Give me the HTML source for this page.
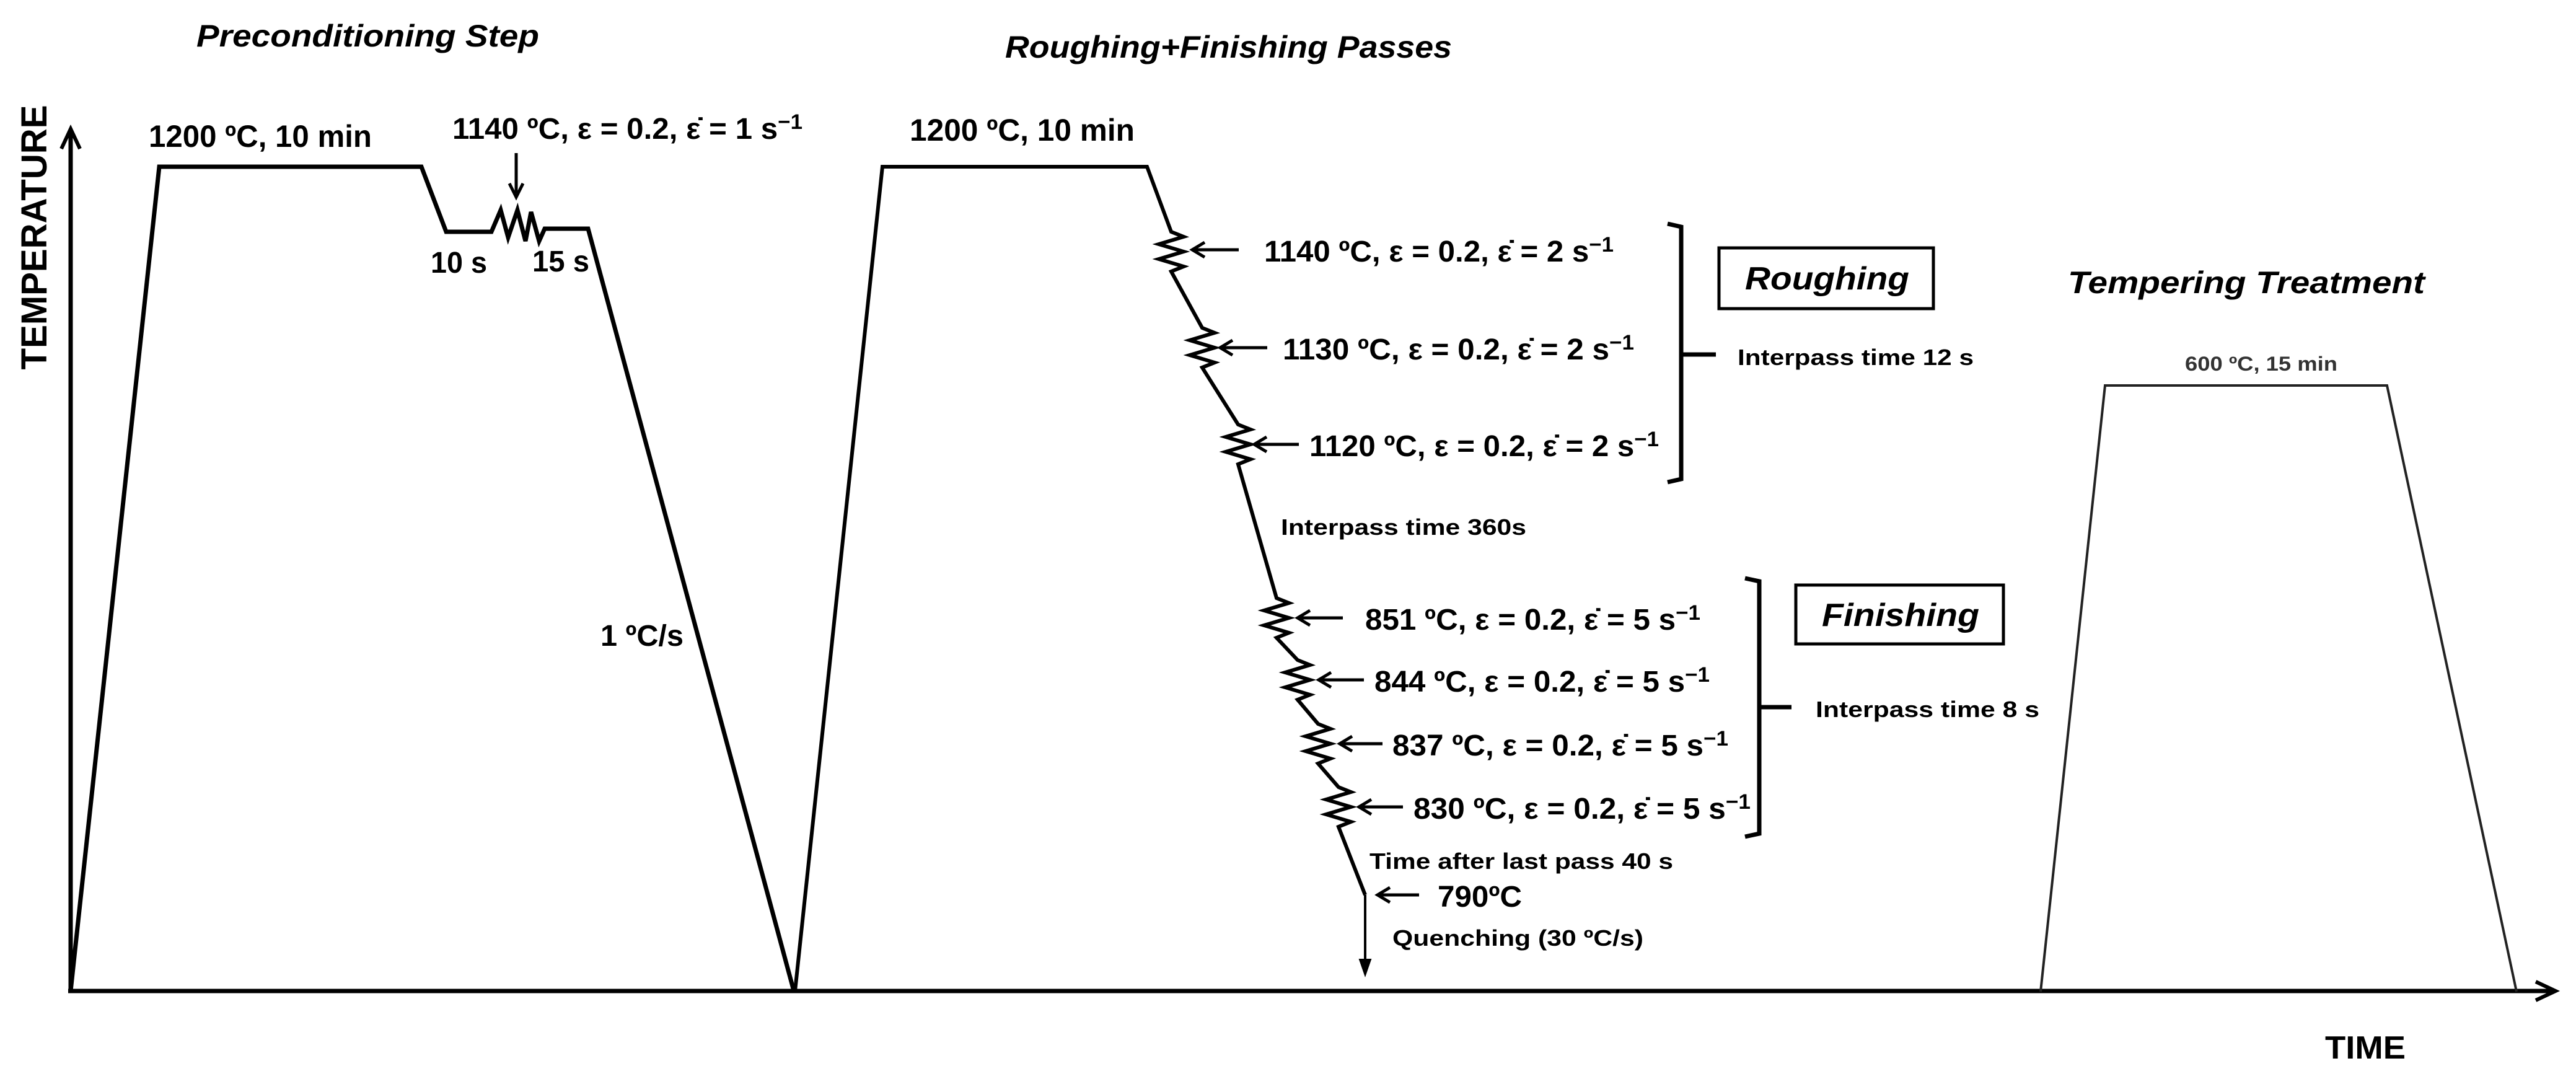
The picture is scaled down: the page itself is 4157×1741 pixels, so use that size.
<!DOCTYPE html>
<html><head><meta charset="utf-8"><style>
html,body{margin:0;padding:0;background:#fff}
svg{display:block}
text{font-family:"Liberation Sans",Arial,sans-serif;font-weight:bold;fill:#000}
.it{font-style:italic}
</style></head><body>
<svg width="4157" height="1741" viewBox="0 0 4157 1741" xmlns="http://www.w3.org/2000/svg">
<g fill="none" stroke="#000" stroke-linejoin="miter" stroke-linecap="butt">
<line x1="114" y1="1599" x2="114" y2="210" stroke-width="7"/>
<polyline points="99,240 114,208 129,240" stroke-width="6"/>
<line x1="110" y1="1599" x2="4122" y2="1599" stroke-width="7"/>
<polyline points="4092,1584 4124,1599 4092,1614" stroke-width="6"/>
<polyline stroke-width="7" points="114,1599 257,269 680,269 720,374 793,374 808,339 820,383 835,339 848,389 857,342 870,389 879,369 949,369 1281,1599"/>
<line x1="833" y1="247" x2="833" y2="312" stroke-width="5"/>
<polyline points="822,296 833,318 844,296" stroke-width="5"/>
<polyline stroke-width="6" points="1283,1599 1424,269 1851,269 1890,374 1910,382 1870,394 1910,406 1870,418 1910,430 1890,438 1940,529 1960,537 1920,549 1960,561 1920,573 1960,585 1940,593 1998,685 2018,693 1978,705 2018,717 1978,729 2018,741 1998,749 2060,965 2080,973 2040,985 2080,997 2040,1009 2080,1021 2060,1029 2094,1065 2114,1073 2074,1085 2114,1097 2074,1109 2114,1121 2094,1129 2127,1168 2147,1176 2107,1188 2147,1200 2107,1212 2147,1224 2127,1232 2160,1270 2180,1278 2140,1290 2180,1302 2140,1314 2180,1326 2160,1334 2203,1444"/>
<line x1="2203" y1="1444" x2="2203" y2="1565" stroke-width="4"/>
<polygon points="2194,1548 2203,1574 2212,1548" fill="#000" stroke-width="2"/>
<g stroke-width="5">
<line x1="1999" y1="403" x2="1926" y2="403"/><polyline points="1944,391 1924,403 1944,415"/>
<line x1="2045" y1="561" x2="1971" y2="561"/><polyline points="1989,549 1969,561 1989,573"/>
<line x1="2096" y1="717" x2="2026" y2="717"/><polyline points="2044,705 2024,717 2044,729"/>
<line x1="2167" y1="997" x2="2096" y2="997"/><polyline points="2114,985 2094,997 2114,1009"/>
<line x1="2201" y1="1097" x2="2130" y2="1097"/><polyline points="2148,1085 2128,1097 2148,1109"/>
<line x1="2231" y1="1200" x2="2164" y2="1200"/><polyline points="2182,1188 2162,1200 2182,1212"/>
<line x1="2264" y1="1302" x2="2195" y2="1302"/><polyline points="2213,1290 2193,1302 2213,1314"/>
<line x1="2290" y1="1444" x2="2225" y2="1444"/><polyline points="2243,1432 2223,1444 2243,1456"/>
</g>
<polyline stroke-width="7" points="2691,361 2713,366 2713,773 2691,778"/>
<line x1="2713" y1="572" x2="2769" y2="572" stroke-width="7"/>
<polyline stroke-width="7" points="2816,933 2839,938 2839,1345 2816,1350"/>
<line x1="2839" y1="1141" x2="2891" y2="1141" stroke-width="7"/>
<rect x="2774" y="400" width="346" height="98" stroke-width="5"/>
<rect x="2898" y="944" width="335" height="95" stroke-width="5"/>
<polyline stroke-width="4" stroke="#222" points="3293,1600 3397,622 3852,622 4061,1600"/>
</g>

<text class="it" x="317" y="75" font-size="50" textLength="553" lengthAdjust="spacingAndGlyphs">Preconditioning Step</text>
<text class="it" x="1622" y="93" font-size="50" textLength="721" lengthAdjust="spacingAndGlyphs">Roughing+Finishing Passes</text>
<text class="it" x="3337" y="473" font-size="50" textLength="576" lengthAdjust="spacingAndGlyphs">Tempering Treatment</text>
<text class="it" x="2816" y="467" font-size="52" textLength="265" lengthAdjust="spacingAndGlyphs">Roughing</text>
<text class="it" x="2940" y="1010" font-size="52" textLength="254" lengthAdjust="spacingAndGlyphs">Finishing</text>
<text x="3752" y="1708" font-size="52" textLength="130" lengthAdjust="spacingAndGlyphs">TIME</text>
<text transform="translate(75,383) rotate(-90)" text-anchor="middle" font-size="58" textLength="427" lengthAdjust="spacingAndGlyphs">TEMPERATURE</text>

<text x="240" y="237" font-size="50" textLength="360" lengthAdjust="spacingAndGlyphs">1200 ºC, 10 min</text>
<text x="1468" y="227" font-size="50" textLength="363" lengthAdjust="spacingAndGlyphs">1200 ºC, 10 min</text>
<text x="730" y="224" font-size="48" textLength="565" lengthAdjust="spacingAndGlyphs">1140 ºC, ε = 0.2, ε̇ = 1 s<tspan dy="-16" font-size="34">−1</tspan></text>
<text x="695" y="440" font-size="48" textLength="91" lengthAdjust="spacingAndGlyphs">10 s</text>
<text x="859" y="438" font-size="48" textLength="92" lengthAdjust="spacingAndGlyphs">15 s</text>
<text x="969" y="1042" font-size="48" textLength="134" lengthAdjust="spacingAndGlyphs">1 ºC/s</text>

<g font-size="48">
<text x="2040" y="422" textLength="564" lengthAdjust="spacingAndGlyphs">1140 ºC, ε = 0.2, ε̇ = 2 s<tspan dy="-16" font-size="34">−1</tspan></text>
<text x="2070" y="580" textLength="567" lengthAdjust="spacingAndGlyphs">1130 ºC, ε = 0.2, ε̇ = 2 s<tspan dy="-16" font-size="34">−1</tspan></text>
<text x="2113" y="736" textLength="564" lengthAdjust="spacingAndGlyphs">1120 ºC, ε = 0.2, ε̇ = 2 s<tspan dy="-16" font-size="34">−1</tspan></text>
<text x="2203" y="1016" textLength="541" lengthAdjust="spacingAndGlyphs">851 ºC, ε = 0.2, ε̇ = 5 s<tspan dy="-16" font-size="34">−1</tspan></text>
<text x="2218" y="1116" textLength="541" lengthAdjust="spacingAndGlyphs">844 ºC, ε = 0.2, ε̇ = 5 s<tspan dy="-16" font-size="34">−1</tspan></text>
<text x="2247" y="1219" textLength="542" lengthAdjust="spacingAndGlyphs">837 ºC, ε = 0.2, ε̇ = 5 s<tspan dy="-16" font-size="34">−1</tspan></text>
<text x="2281" y="1321" textLength="544" lengthAdjust="spacingAndGlyphs">830 ºC, ε = 0.2, ε̇ = 5 s<tspan dy="-16" font-size="34">−1</tspan></text>
<text x="2320" y="1463" textLength="136" lengthAdjust="spacingAndGlyphs">790ºC</text>
</g>
<g font-size="36">
<text x="2067" y="863" textLength="396" lengthAdjust="spacingAndGlyphs">Interpass time 360s</text>
<text x="2804" y="589" textLength="381" lengthAdjust="spacingAndGlyphs">Interpass time 12 s</text>
<text x="2930" y="1157" textLength="361" lengthAdjust="spacingAndGlyphs">Interpass time 8 s</text>
<text x="2210" y="1402" textLength="490" lengthAdjust="spacingAndGlyphs">Time after last pass 40 s</text>
<text x="2247" y="1526" textLength="405" lengthAdjust="spacingAndGlyphs">Quenching (30 ºC/s)</text>
</g>
<text x="3526" y="598" font-size="32" style="fill:#333" textLength="246" lengthAdjust="spacingAndGlyphs">600 ºC, 15 min</text>
</svg>
</body></html>
